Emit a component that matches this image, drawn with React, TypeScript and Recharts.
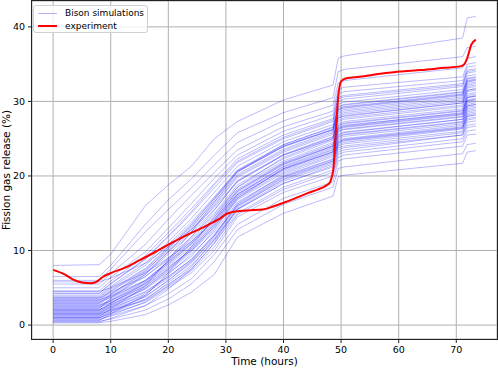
import { LineChart, Line, XAxis, YAxis, CartesianGrid } from 'recharts';

// sample times of the Bison runs (hours)
const simTimes = [0, 8, 10, 16, 20, 24, 28, 32, 40, 48.6, 49.5, 50.5, 71.1, 71.9, 73.4];

// fission gas release (%) of each Bison run, one row per run
const simRuns = [
  [0.3, 0.3, 0.5, 1.4, 2.7, 4.4, 6.8, 11.8, 15.0, 17.3, 19.9, 20.1, 21.7, 23.2, 23.4],
  [0.5, 0.5, 0.8, 2.0, 3.5, 5.5, 8.5, 12.8, 16.2, 18.5, 21.0, 21.2, 23.0, 24.2, 24.4],
  [0.8, 0.8, 1.2, 2.6, 4.2, 6.2, 9.5, 13.5, 17.0, 19.2, 22.0, 22.3, 24.0, 25.5, 25.6],
  [1.0, 1.0, 1.5, 3.0, 5.0, 7.0, 10.0, 14.5, 17.8, 20.0, 22.5, 22.8, 24.6, 26.0, 26.2],
  [1.2, 1.2, 1.8, 3.5, 5.5, 7.5, 11.0, 15.0, 18.5, 20.8, 23.2, 23.5, 25.5, 26.8, 27.0],
  [1.4, 1.4, 2.0, 3.8, 6.0, 8.5, 11.5, 15.5, 19.0, 21.4, 23.8, 24.0, 25.8, 27.5, 27.7],
  [1.5, 1.5, 2.4, 4.4, 6.5, 8.8, 12.2, 16.0, 19.5, 21.8, 24.2, 24.5, 26.3, 28.0, 28.2],
  [1.7, 1.7, 2.3, 4.0, 6.8, 9.5, 12.5, 16.5, 20.0, 22.3, 24.8, 25.0, 26.8, 28.6, 28.8],
  [1.8, 1.8, 2.8, 5.0, 7.2, 9.8, 13.0, 16.8, 20.4, 22.8, 25.2, 25.5, 27.2, 29.0, 29.2],
  [2.0, 2.0, 3.0, 5.3, 7.6, 10.2, 13.5, 17.3, 20.8, 23.2, 25.6, 25.9, 27.6, 29.4, 29.6],
  [2.1, 2.1, 2.7, 4.8, 7.0, 9.2, 12.8, 17.0, 21.0, 23.5, 26.0, 26.3, 28.0, 29.8, 30.0],
  [2.3, 2.3, 3.3, 5.8, 8.2, 10.8, 14.0, 17.8, 21.5, 24.0, 26.5, 26.8, 28.4, 30.2, 30.4],
  [2.5, 2.5, 3.5, 6.0, 8.5, 11.2, 14.5, 18.2, 21.8, 24.3, 26.8, 27.1, 28.8, 30.6, 30.8],
  [2.6, 2.6, 3.2, 5.5, 7.8, 10.0, 13.2, 17.0, 20.6, 23.0, 25.3, 25.6, 27.3, 29.2, 29.4],
  [2.8, 2.8, 3.8, 6.5, 9.0, 11.8, 15.0, 18.8, 22.3, 24.8, 27.3, 27.6, 29.3, 31.0, 31.2],
  [3.0, 3.0, 4.0, 6.8, 9.5, 12.3, 15.5, 19.2, 22.8, 25.2, 27.8, 28.1, 29.8, 31.5, 31.7],
  [3.2, 3.2, 4.2, 7.0, 9.8, 12.5, 16.0, 19.8, 23.2, 25.6, 28.2, 28.5, 30.2, 32.0, 32.2],
  [3.4, 3.4, 3.9, 6.0, 8.5, 11.0, 14.2, 18.0, 21.6, 24.0, 26.4, 26.7, 28.5, 30.5, 30.7],
  [3.5, 3.5, 4.6, 7.5, 10.3, 13.2, 16.5, 20.2, 23.6, 26.0, 28.6, 28.9, 30.6, 32.4, 32.6],
  [3.8, 3.8, 5.0, 8.0, 10.8, 13.8, 17.2, 20.8, 24.2, 26.5, 29.2, 29.5, 31.2, 33.0, 33.2],
  [4.0, 4.0, 5.2, 8.3, 11.2, 14.3, 17.8, 21.3, 24.6, 26.9, 29.6, 29.9, 31.6, 33.4, 33.6],
  [4.3, 4.3, 5.5, 8.8, 11.8, 15.0, 18.4, 21.8, 25.0, 27.3, 30.0, 30.3, 32.0, 33.8, 34.0],
  [4.6, 4.6, 5.9, 9.3, 12.4, 15.6, 19.0, 22.3, 25.5, 27.7, 30.5, 30.8, 32.4, 34.2, 34.4],
  [5.0, 5.0, 6.4, 9.8, 13.0, 16.3, 19.7, 22.8, 26.0, 28.2, 31.0, 31.3, 32.8, 34.6, 34.8],
  [5.5, 5.5, 6.9, 10.8, 14.2, 17.4, 20.5, 23.5, 26.6, 28.7, 31.6, 31.9, 33.3, 35.0, 35.2],
  [6.0, 6.0, 7.5, 12.5, 15.5, 18.4, 21.5, 24.5, 27.4, 29.5, 32.5, 32.8, 34.5, 35.8, 36.0],
  [6.5, 6.5, 8.0, 13.5, 16.8, 19.6, 22.8, 25.8, 28.5, 30.5, 34.0, 34.3, 36.0, 37.2, 37.4],
  [8.0, 8.1, 9.5, 16.0, 18.8, 21.3, 25.0, 27.3, 30.2, 32.2, 35.8, 36.1, 38.5, 41.2, 41.4],
  [0.6, 0.6, 1.5, 4.0, 7.0, 10.5, 14.5, 18.5, 22.5, 25.0, 27.8, 28.0, 29.8, 31.5, 31.7],
  [1.1, 1.1, 2.2, 5.2, 8.8, 12.5, 16.5, 20.5, 24.0, 26.3, 29.0, 29.3, 31.0, 32.8, 33.0],
  [4.5, 4.5, 5.0, 7.0, 9.0, 11.2, 14.0, 17.5, 21.0, 23.2, 25.5, 25.8, 27.6, 29.4, 29.6],
  [5.8, 5.8, 6.3, 8.3, 10.5, 12.8, 15.8, 19.3, 22.8, 25.0, 27.5, 27.8, 29.5, 31.3, 31.5],
  [0.4, 0.4, 0.9, 2.6, 4.8, 7.5, 11.0, 15.5, 19.0, 21.2, 23.5, 23.8, 25.5, 27.2, 27.4],
  [2.2, 2.2, 3.6, 6.8, 9.8, 13.0, 16.8, 20.6, 24.2, 26.6, 29.3, 29.6, 31.3, 33.1, 33.3],
  [3.6, 3.6, 4.4, 6.5, 8.8, 11.5, 14.8, 18.5, 22.0, 24.5, 27.0, 27.3, 29.0, 30.8, 31.0],
  [1.9, 1.9, 2.5, 4.5, 6.5, 8.8, 12.0, 16.3, 20.2, 22.6, 25.0, 25.3, 27.0, 28.8, 29.0],
  [2.7, 2.7, 3.3, 5.6, 8.0, 10.5, 13.8, 17.6, 21.2, 23.6, 26.2, 26.5, 28.2, 30.0, 30.2],
  [0.9, 0.9, 1.8, 3.8, 6.0, 8.3, 11.8, 16.0, 19.8, 22.0, 24.5, 24.8, 26.5, 28.2, 28.4],
  [1.3, 1.3, 2.0, 3.3, 5.2, 7.3, 10.5, 14.8, 18.2, 20.5, 22.9, 23.2, 25.0, 26.5, 26.7],
  [3.3, 3.3, 4.5, 7.3, 10.0, 12.8, 16.2, 20.0, 23.4, 25.8, 28.4, 28.7, 30.4, 32.2, 32.4],
  [1.6, 1.6, 2.6, 4.9, 7.4, 10.0, 13.3, 17.2, 20.9, 23.3, 25.9, 26.2, 27.9, 29.6, 29.8],
  [2.4, 2.4, 3.0, 5.2, 7.5, 10.3, 13.6, 17.5, 21.3, 23.8, 26.3, 26.6, 28.3, 30.1, 30.3],
  [2.9, 2.9, 4.1, 7.2, 10.2, 13.4, 17.0, 20.7, 24.0, 26.2, 28.9, 29.2, 30.9, 32.7, 32.9],
  [1.0, 1.0, 1.6, 3.4, 5.7, 8.0, 11.3, 15.6, 19.3, 21.6, 24.0, 24.3, 26.0, 27.7, 27.9],
  [3.1, 3.1, 3.7, 5.9, 8.3, 10.9, 14.2, 18.0, 21.7, 24.1, 26.7, 27.0, 28.7, 30.5, 30.7],
  [2.0, 2.0, 2.9, 5.6, 8.6, 11.8, 15.4, 19.4, 22.9, 25.3, 28.0, 28.3, 30.0, 31.8, 32.0],
  [0.7, 0.7, 1.3, 3.1, 5.3, 7.8, 11.5, 15.8, 19.6, 22.0, 24.4, 24.7, 26.4, 28.0, 28.2],
  [4.2, 4.2, 5.6, 8.9, 12.0, 15.2, 18.8, 22.0, 25.2, 27.5, 30.3, 30.6, 32.2, 34.0, 34.2],
  [1.5, 1.5, 2.1, 4.2, 6.3, 8.6, 12.0, 16.2, 19.9, 22.2, 24.6, 24.9, 26.6, 28.4, 28.6],
  [3.7, 3.7, 4.8, 7.6, 10.5, 13.5, 17.0, 20.6, 23.9, 26.2, 28.8, 29.1, 30.8, 32.6, 32.8],
];

// measured release
const expTimes = [
  0, 2, 3.5, 5, 6.5, 7.5, 8.7, 10.1, 12.5, 15, 17.5, 20, 22, 23.8, 25.5, 27.3, 28.8, 30.1,
  31.3, 32.4, 34.2, 36.4, 38.2, 40, 42, 44.2, 46, 47.4, 48.1, 48.4, 48.7, 49.1, 49.5, 50,
  50.9, 53.2, 56.8, 60.1, 63.8, 67.9, 70.7, 71.4, 71.9, 72.6, 73.4,
];
const expValues = [
  7.4, 6.8, 6.1, 5.7, 5.6, 5.8, 6.5, 7.0, 7.7, 8.7, 9.7, 10.8, 11.6, 12.3, 12.9, 13.6, 14.2, 14.9,
  15.2, 15.3, 15.4, 15.5, 15.9, 16.4, 17.0, 17.7, 18.2, 18.7, 19.2, 19.9, 21.2, 26.2, 30.6, 32.7,
  33.1, 33.3, 33.7, 34.0, 34.2, 34.5, 34.7, 35.0, 35.8, 37.6, 38.3,
];

const xTicks = [0, 10, 20, 30, 40, 50, 60, 70];
const yTicks = [0, 10, 20, 30, 40];

const simSeries = simRuns.map((run) => run.map((v, i) => ({ t: simTimes[i], v })));
const expSeries = expTimes.map((t, i) => ({ t, v: expValues[i] }));

const font = '"DejaVu Sans", sans-serif';

function LegendBox() {
  const row = { display: 'flex', alignItems: 'center', height: 12.5 };
  return (
    <div
      style={{
        position: 'absolute',
        left: 33,
        top: 5,
        width: 115,
        height: 28,
        boxSizing: 'border-box',
        border: '1px solid #d0d0d0',
        borderRadius: 3,
        background: 'rgba(255,255,255,0.8)',
        padding: '1px 0 0 4px',
        fontSize: 9,
        fontFamily: font,
        color: '#000',
      }}
    >
      <div style={row}>
        <div style={{ width: 19, height: 1, background: 'rgba(0,0,255,0.3)', marginRight: 8 }} />
        <span>Bison simulations</span>
      </div>
      <div style={row}>
        <div style={{ width: 19, height: 2, background: '#ff0000', marginRight: 8 }} />
        <span>experiment</span>
      </div>
    </div>
  );
}

export default function App() {
  return (
    <div style={{ position: 'absolute', left: 0, top: 0, width: 498, height: 368, background: '#fff' }}>
      <LineChart width={498} height={368} margin={{ top: 1, right: 1, bottom: 0, left: 0 }}>
        <CartesianGrid stroke="#b0b0b0" strokeWidth={1} />
        <XAxis
          dataKey="t"
          type="number"
          domain={[-3.67, 77.07]}
          ticks={xTicks}
          allowDataOverflow
          height={29}
          axisLine={false}
          tickSize={4}
          tickMargin={3}
          tickLine={{ stroke: '#222' }}
          tick={{ fill: '#000', fontSize: 9.5, fontFamily: font }}
          label={{ value: 'Time (hours)', position: 'insideBottom', offset: 3, fill: '#000', fontSize: 10.5, fontFamily: font }}
        />
        <YAxis
          type="number"
          domain={[-1.87, 43.47]}
          ticks={yTicks}
          allowDataOverflow
          width={32}
          axisLine={false}
          tickSize={4}
          tickMargin={3}
          tickLine={{ stroke: '#222' }}
          tick={{ fill: '#000', fontSize: 9.5, fontFamily: font }}
          label={{ value: 'Fission gas release (%)', angle: -90, position: 'center', dx: -10, fill: '#000', fontSize: 10.5, fontFamily: font }}
        />
        {simSeries.map((s, i) => (
          <Line
            key={i}
            data={s}
            dataKey="v"
            type="linear"
            stroke="#0000ff"
            strokeOpacity={0.3}
            strokeWidth={0.9}
            dot={false}
            activeDot={false}
            isAnimationActive={false}
          />
        ))}
        <Line
          data={expSeries}
          dataKey="v"
          type="monotone"
          stroke="#ff0000"
          strokeWidth={2}
          dot={false}
          activeDot={false}
          isAnimationActive={false}
        />
      </LineChart>
      <div
        style={{
          position: 'absolute',
          left: 31,
          top: 0,
          width: 467,
          height: 340,
          boxSizing: 'border-box',
          border: '1px solid #222',
          pointerEvents: 'none',
        }}
      />
      <LegendBox />
    </div>
  );
}
